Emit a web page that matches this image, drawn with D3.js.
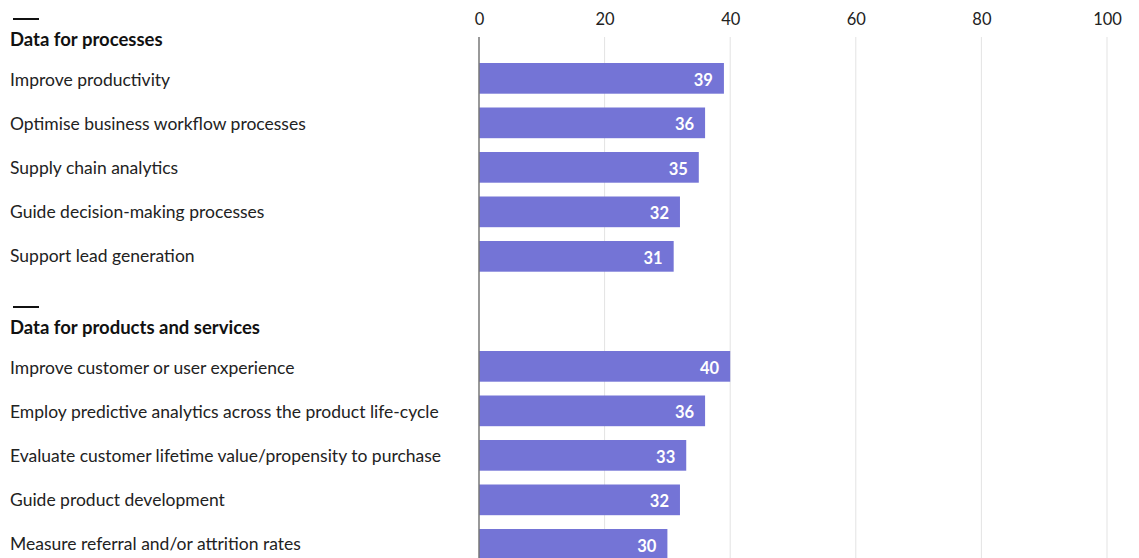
<!DOCTYPE html>
<html>
<head>
<meta charset="utf-8">
<script src="https://cdn.jsdelivr.net/npm/d3@7"></script>
<style>
  html, body { margin: 0; padding: 0; background: #fff; }
  svg { display: block; }
  text { font-family: "Lato", "Noto Sans", sans-serif; }
</style>
</head>
<body>
<svg id="chart" width="1139" height="558"></svg>
<script>
// Group titles
const groupTitles = ["Data for processes", "Data for products and services"];

// Categories per group
const processCategories = [
  "Improve productivity",
  "Optimise business workflow processes",
  "Supply chain analytics",
  "Guide decision-making processes",
  "Support lead generation"
];
const productCategories = [
  "Improve customer or user experience",
  "Employ predictive analytics across the product life-cycle",
  "Evaluate customer lifetime value/propensity to purchase",
  "Guide product development",
  "Measure referral and/or attrition rates"
];

// Values (% of respondents)
const processValues = [39, 36, 35, 32, 31];
const productValues = [40, 36, 33, 32, 30];

// Axis ticks
const tickValues = [0, 20, 40, 60, 80, 100];

const W = 1139, H = 558;
const svg = d3.select("#chart");

const x = d3.scaleLinear().domain([0, 100]).range([479, 1107]);

// Gridlines
svg.append("g")
  .selectAll("line")
  .data(tickValues.filter(d => d > 0))
  .join("line")
  .attr("x1", d => x(d)).attr("x2", d => x(d))
  .attr("y1", 37).attr("y2", H)
  .attr("stroke", "#e3e3e3").attr("stroke-width", 1);

// Top axis labels
const axis = d3.axisTop(x).tickValues(tickValues).tickSize(0).tickPadding(0);
const gAxis = svg.append("g").attr("transform", "translate(0,25)").call(axis);
gAxis.select(".domain").remove();
gAxis.selectAll("text")
  .attr("font-family", "Lato, 'Noto Sans', sans-serif")
  .attr("font-size", 16.5)
  .attr("fill", "#222");

const groups = [
  { title: groupTitles[0], cats: processCategories, vals: processValues, top: 19 },
  { title: groupTitles[1], cats: productCategories, vals: productValues, top: 307 }
];

const step = 44.5, barH = 30.7;

groups.forEach(g => {
  const y = d3.scaleBand()
    .domain(g.cats)
    .range([g.top + 44 - (step - barH) / 2, g.top + 44 - (step - barH) / 2 + step * g.cats.length])
    .paddingInner((step - barH) / step)
    .paddingOuter((step - barH) / step / 2);

  // Header rule and title
  svg.append("line")
    .attr("x1", 13).attr("x2", 39)
    .attr("y1", g.top).attr("y2", g.top)
    .attr("stroke", "#111").attr("stroke-width", 2);
  svg.append("text")
    .attr("x", 10).attr("y", g.top + 27)
    .attr("font-size", 18.5).attr("font-weight", 700)
    .attr("fill", "#111")
    .text(g.title);

  const data = g.cats.map((c, i) => ({ c, v: g.vals[i] }));

  svg.append("g").selectAll("rect")
    .data(data).join("rect")
    .attr("x", x(0)).attr("y", d => y(d.c))
    .attr("width", d => x(d.v) - x(0)).attr("height", y.bandwidth())
    .attr("fill", "#7474d6");

  svg.append("g").selectAll("text.cat")
    .data(data).join("text")
    .attr("class", "cat")
    .attr("x", 10).attr("y", (d, i) => y(d.c) + y.bandwidth() / 2 + 2 - i * 0.6)
    .attr("dy", "0.35em")
    .attr("font-size", 17.5).attr("fill", "#222")
    .text(d => d.c);

  svg.append("g").selectAll("text.val")
    .data(data).join("text")
    .attr("class", "val")
    .attr("x", d => x(d.v) - 11).attr("y", d => y(d.c) + y.bandwidth() / 2 + 1.5)
    .attr("dy", "0.35em")
    .attr("text-anchor", "end")
    .attr("font-size", 16.5).attr("font-weight", 700)
    .attr("fill", "#fff")
    .text(d => d.v);
});

// Zero baseline
svg.append("line")
  .attr("x1", x(0)).attr("x2", x(0))
  .attr("y1", 37).attr("y2", H)
  .attr("stroke", "#777").attr("stroke-width", 1.5);
</script>
</body>
</html>
